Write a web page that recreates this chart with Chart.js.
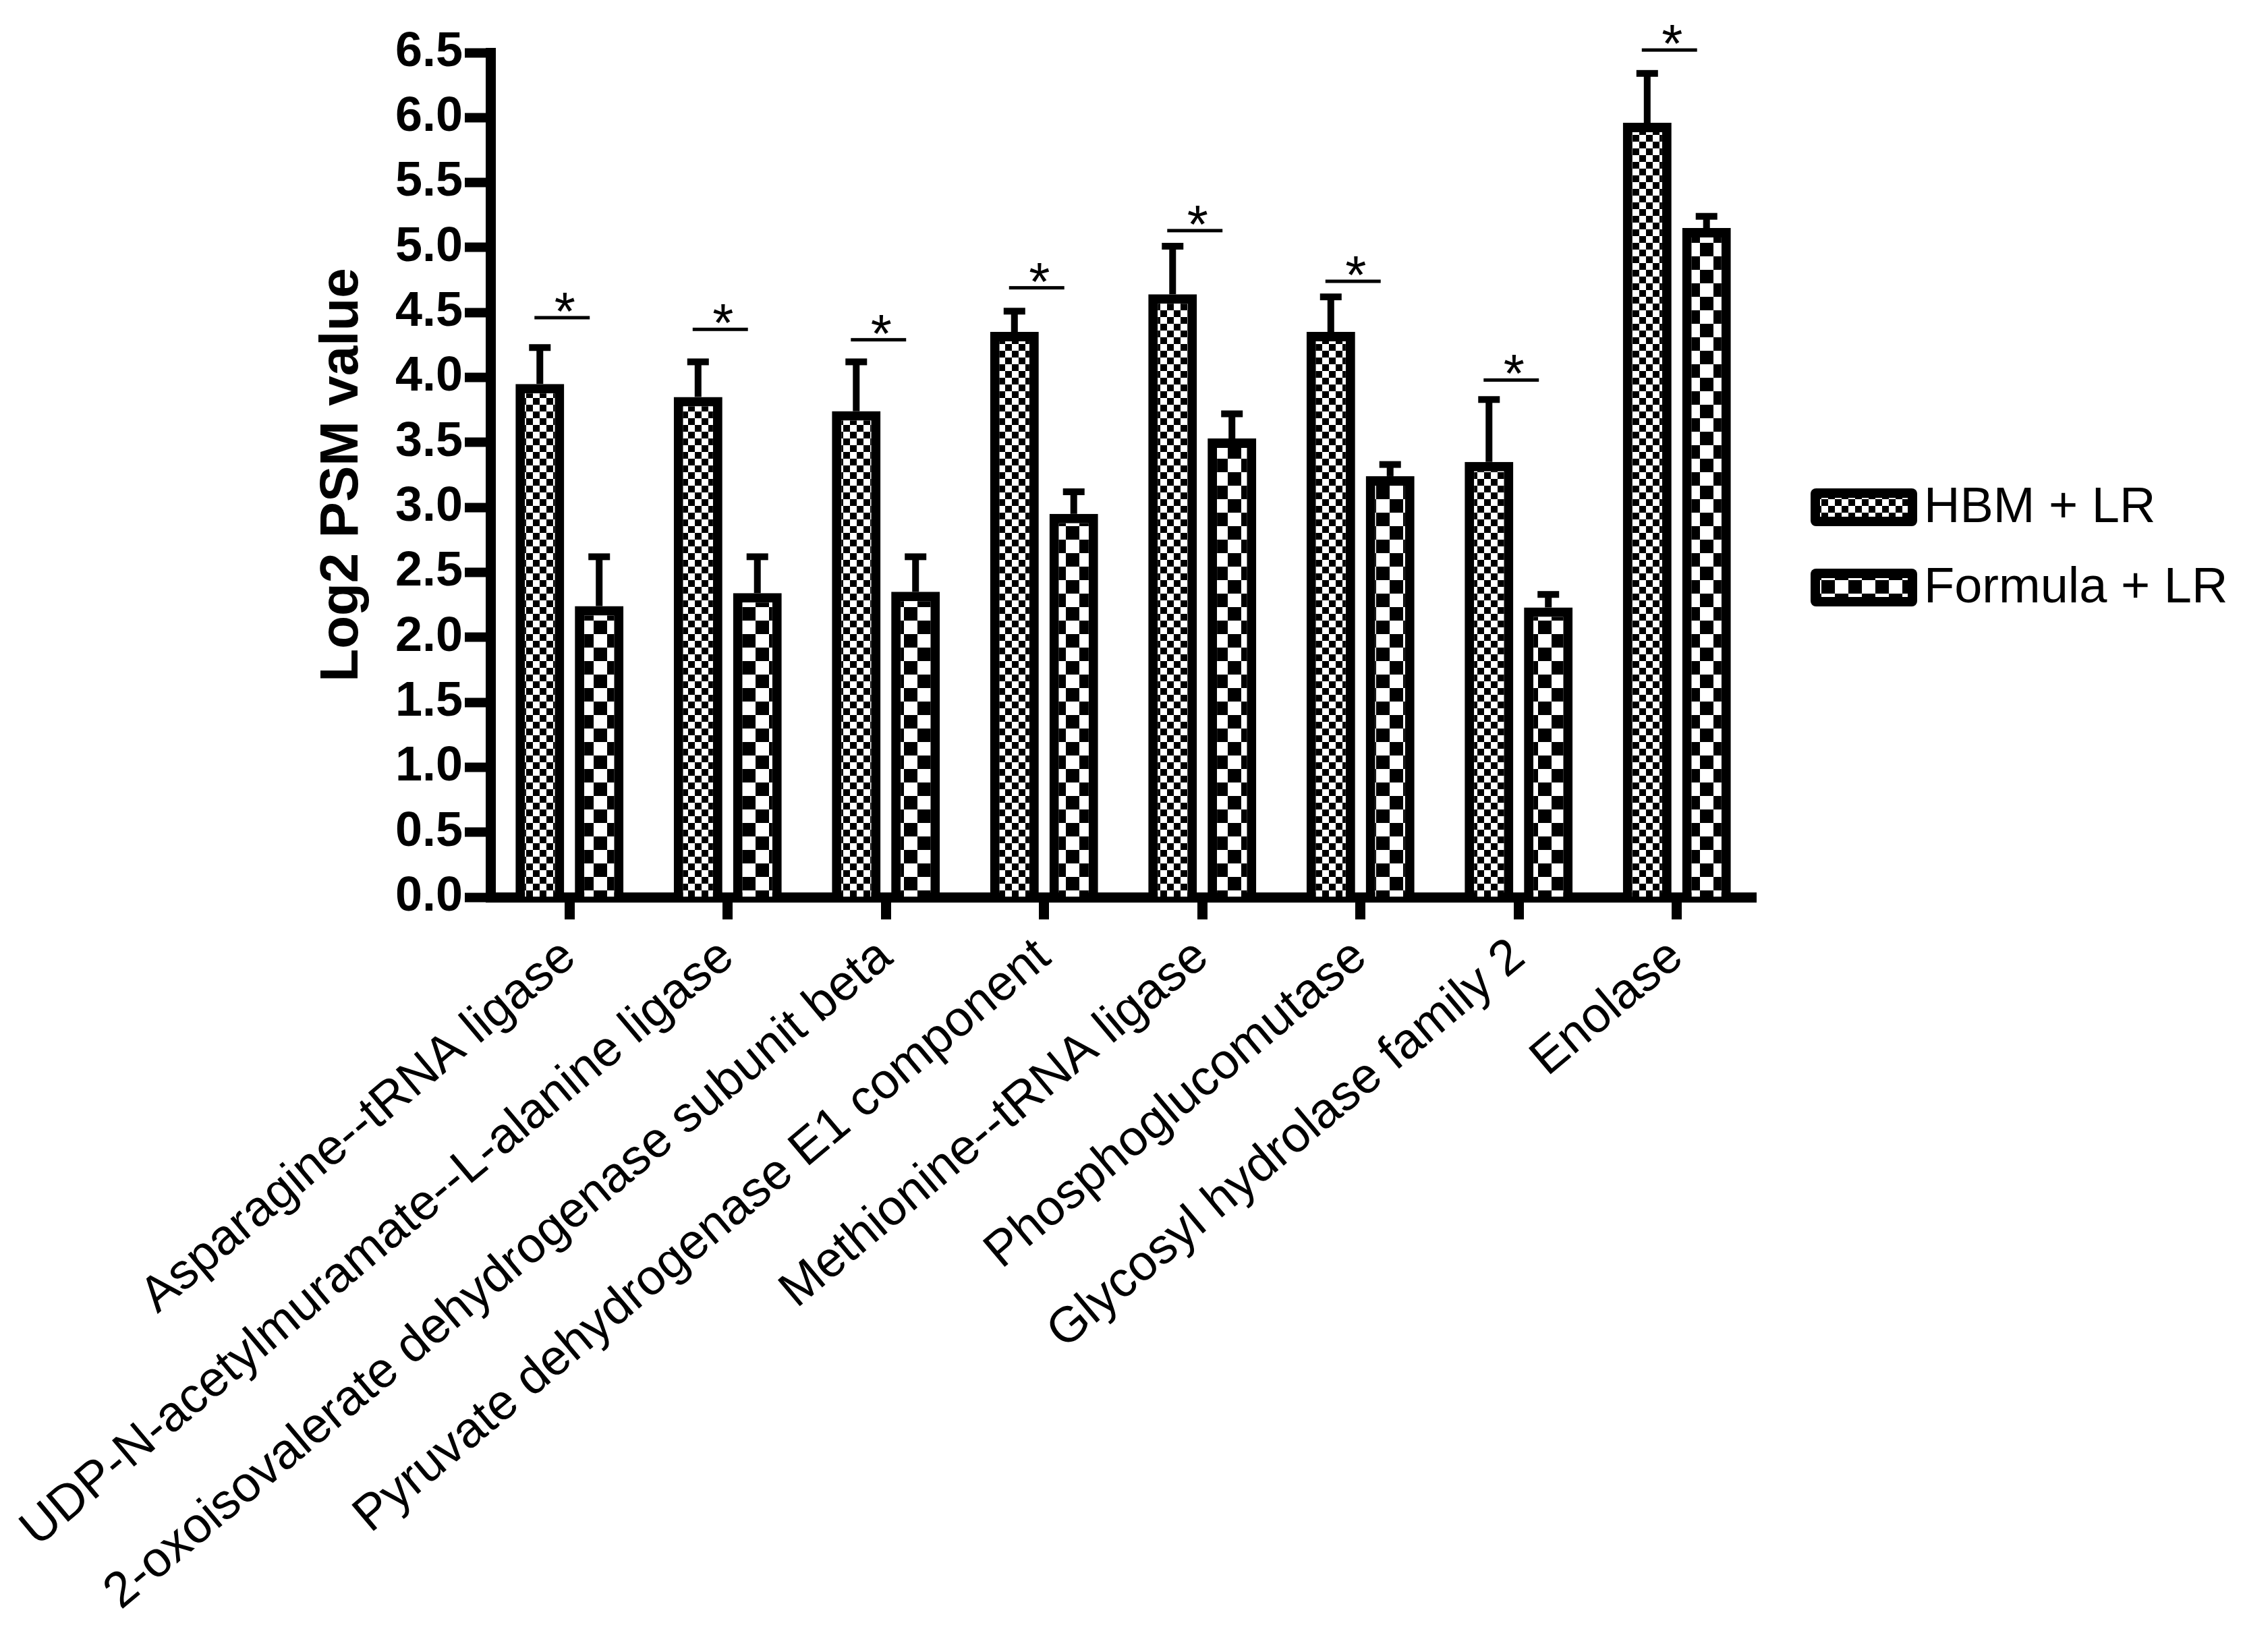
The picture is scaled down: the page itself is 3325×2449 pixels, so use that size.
<!DOCTYPE html>
<html>
<head>
<meta charset="utf-8">
<script src="https://cdn.jsdelivr.net/npm/chart.js@4/dist/chart.umd.min.js"></script>
<style>
  html, body { margin: 0; padding: 0; background: #fff; }
  canvas { display: block; }
</style>
</head>
<body>
<canvas id="psmChart" width="3325" height="2449"></canvas>
<script>
const categories = [
    "Asparagine--tRNA ligase",
    "UDP-N-acetylmuramate--L-alanine ligase",
    "2-oxoisovalerate dehydrogenase subunit beta",
    "Pyruvate dehydrogenase E1 component",
    "Methionine--tRNA ligase",
    "Phosphoglucomutase",
    "Glycosyl hydrolase family 2",
    "Enolase"
];
const seriesNames = ["HBM + LR", "Formula + LR"];
const hbmValues = [3.95, 3.85, 3.74, 4.35, 4.64, 4.35, 3.35, 5.96];
const formulaValues = [2.24, 2.34, 2.35, 2.95, 3.53, 3.24, 2.23, 5.15];
const hbmErrors = [0.28, 0.27, 0.38, 0.16, 0.37, 0.27, 0.48, 0.38];
const formulaErrors = [0.38, 0.28, 0.27, 0.17, 0.19, 0.09, 0.10, 0.09];
const sigLineY = [4.46, 4.37, 4.29, 4.69, 5.13, 4.74, 3.98, 6.52];
const sigMarks = ["*", "*", "*", "*", "*", "*", "*", "*"];
const yMin = 0, yMax = 6.5, yStep = 0.5;

const FONT = "'Liberation Sans', Arial, sans-serif";

const canvas = document.getElementById("psmChart");
const ctx = canvas.getContext("2d");

function checker(cell) {
    const tile = document.createElement("canvas");
    tile.width = tile.height = cell * 2;
    const g = tile.getContext("2d");
    g.fillStyle = "#fff";
    g.fillRect(0, 0, cell * 2, cell * 2);
    g.fillStyle = "#000";
    g.fillRect(0, 0, cell, cell);
    g.fillRect(cell, cell, cell, cell);
    return ctx.createPattern(tile, "repeat");
}

const fineChecker = checker(10);
const coarseChecker = checker(20);

// error bars (up only) + significance bars with stars
const annotations = {
    id: "annotations",
    afterDatasetsDraw(chart) {
        const c = chart.ctx;
        const y = chart.scales.y;
        const errs = [hbmErrors, formulaErrors];
        c.save();
        c.fillStyle = "#000";
        chart.data.datasets.forEach((ds, d) => {
            chart.getDatasetMeta(d).data.forEach((bar, i) => {
                const top = y.getPixelForValue(ds.data[i]);
                const cap = y.getPixelForValue(ds.data[i] + errs[d][i]);
                c.fillRect(bar.x - 5, cap, 10, top - cap);
                c.fillRect(bar.x - 16, cap - 5, 32, 10);
            });
        });
        const left = chart.getDatasetMeta(0).data;
        const right = chart.getDatasetMeta(1).data;
        c.font = "80px " + FONT;
        c.textAlign = "center";
        c.textBaseline = "alphabetic";
        sigLineY.forEach((v, i) => {
            const ly = y.getPixelForValue(v);
            const x1 = left[i].x - 8;
            const x2 = right[i].x - 14;
            c.fillRect(x1, ly - 2.5, x2 - x1, 5);
            c.fillText(sigMarks[i], (x1 + x2) / 2 + 4, ly + 18);
        });
        c.restore();
    }
};

// legend at right, drawn by hand to sit where the original one sits
const sideLegend = {
    id: "sideLegend",
    afterDraw(chart) {
        const c = chart.ctx;
        const rows = [752, 871];
        c.save();
        chart.data.datasets.forEach((ds, d) => {
            const cy = rows[d];
            c.beginPath();
            c.roundRect(2684, cy - 28, 158, 56, 8);
            c.fillStyle = "#000";
            c.fill();
            c.fillStyle = ds.backgroundColor;
            c.fillRect(2698, cy - 14, 130, 28);
            c.fillStyle = "#000";
            c.font = "74px " + FONT;
            c.textAlign = "left";
            c.textBaseline = "middle";
            c.fillText(ds.label, 2852, cy + 2);
        });
        c.restore();
    }
};

new Chart(canvas, {
    type: "bar",
    data: {
        labels: categories,
        datasets: [{
            label: seriesNames[0],
            data: hbmValues,
            backgroundColor: fineChecker,
            borderColor: "#000",
            borderWidth: 14,
            borderSkipped: "start"
        }, {
            label: seriesNames[1],
            data: formulaValues,
            backgroundColor: coarseChecker,
            borderColor: "#000",
            borderWidth: 14,
            borderSkipped: "start"
        }]
    },
    options: {
        responsive: false,
        devicePixelRatio: 1,
        animation: false,
        categoryPercentage: 0.75,
        barPercentage: 0.82,
        layout: { padding: { top: 78, right: 722, bottom: 0, left: 0 } },
        plugins: {
            legend: { display: false },
            tooltip: { enabled: false }
        },
        scales: {
            x: {
                offset: true,
                grid: {
                    offset: false,
                    drawOnChartArea: false,
                    color: "#000",
                    tickLength: 33,
                    tickWidth: 15
                },
                border: { display: true, color: "#000", width: 15 },
                ticks: {
                    autoSkip: false,
                    minRotation: 40,
                    maxRotation: 40,
                    color: "#000",
                    padding: 12,
                    font: { family: FONT, size: 74 }
                },
                afterFit(scale) { scale.height = 1119; }
            },
            y: {
                min: yMin,
                max: yMax,
                grid: {
                    drawOnChartArea: false,
                    color: "#000",
                    tickLength: 38,
                    tickWidth: 14
                },
                border: { display: true, color: "#000", width: 15 },
                ticks: {
                    stepSize: yStep,
                    color: "#000",
                    padding: 3,
                    font: { family: FONT, size: 72, weight: "bold" },
                    callback: v => v.toFixed(1)
                },
                title: {
                    display: true,
                    text: "Log2 PSM value",
                    color: "#000",
                    padding: { top: 460, bottom: 0 },
                    font: { family: FONT, size: 80, weight: "bold" }
                },
                afterFit(scale) { scale.width = 727; }
            }
        }
    },
    plugins: [annotations, sideLegend]
});
</script>
</body>
</html>
